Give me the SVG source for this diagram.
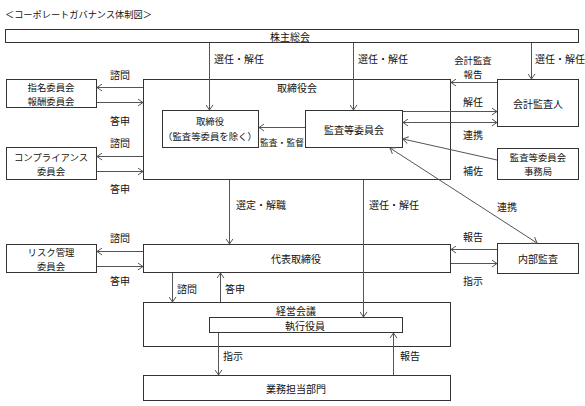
<svg xmlns="http://www.w3.org/2000/svg" width="585" height="406" viewBox="0 0 585 406">
<style>
text{font-family:"Noto Sans CJK JP","Noto Sans CJK SC",sans-serif;font-size:10px;fill:#111;dominant-baseline:central}
.c{text-anchor:middle}
.s{font-size:9.4px}
.box{fill:#fff;stroke:#333;stroke-width:1}
.ln{fill:none;stroke:#555;stroke-width:1}
.a{marker-end:url(#ah)}
.b{marker-start:url(#ah);marker-end:url(#ah)}
</style>
<defs>
<marker id="ah" viewBox="0 0 6 8" refX="5.6" refY="4" markerWidth="6" markerHeight="8" markerUnits="userSpaceOnUse" orient="auto-start-reverse">
<path d="M0.5,0.5 L5.6,4 L0.5,7.5" fill="none" stroke="#555" stroke-width="1"/>
</marker>
</defs>
<rect width="585" height="406" fill="#fff"/>
<text x="5" y="14" style="font-size:9.2px">＜コーポレートガバナンス体制図＞</text>

<g id="kabunushi"><rect class="box" x="5.5" y="29.5" width="573" height="13"/><text class="c" x="290" y="36">株主総会</text></g>
<g id="torishimariyakukai"><rect class="box" x="143.5" y="79.5" width="307" height="100"/><text class="c" x="297" y="87">取締役会</text></g>
<g id="torishimariyaku"><rect class="box" x="162.5" y="110.5" width="96" height="37"/><text class="c s" x="210" y="121">取締役</text><text class="c s" x="210" y="136">（監査等委員を除く）</text></g>
<g id="kansa"><rect class="box" x="305.5" y="110.5" width="97" height="37"/><text class="c" x="354" y="129">監査等委員会</text></g>
<g id="kaikei"><rect class="box" x="497.5" y="79.5" width="81" height="47"/><text class="c" x="538" y="103">会計監査人</text></g>
<g id="jimukyoku"><rect class="box" x="497.5" y="148.5" width="81" height="31"/><text class="c s" x="538" y="157">監査等委員会</text><text class="c s" x="538" y="171">事務局</text></g>
<g id="shimei"><rect class="box" x="6.5" y="79.5" width="90" height="28"/><text class="c s" x="51" y="86.5">指名委員会</text><text class="c s" x="51" y="100.5">報酬委員会</text></g>
<g id="compliance"><rect class="box" x="6.5" y="147.5" width="90" height="32"/><text class="c s" x="51" y="156.5">コンプライアンス</text><text class="c s" x="51" y="170.5">委員会</text></g>
<g id="risk"><rect class="box" x="6.5" y="244.5" width="90" height="28"/><text class="c s" x="51" y="251.5">リスク管理</text><text class="c s" x="51" y="265.5">委員会</text></g>
<g id="daihyo"><rect class="box" x="143.5" y="244.5" width="307" height="28"/><text class="c" x="296" y="258">代表取締役</text></g>
<g id="naibu"><rect class="box" x="497.5" y="243.5" width="81" height="30"/><text class="c" x="538" y="258">内部監査</text></g>
<g id="keiei"><rect class="box" x="143.5" y="302.5" width="307" height="44"/><text class="c" x="296" y="310">経営会議</text></g>
<g id="shikko"><rect class="box" x="209.5" y="317.5" width="193" height="15"/><text class="c" x="305" y="325">執行役員</text></g>
<g id="gyomu"><rect class="box" x="143.5" y="375.5" width="307" height="25"/><text class="c" x="296" y="388">業務担当部門</text></g>

<g id="connectors">
<path class="ln a" d="M209.5,43 V110"/>
<path class="ln a" d="M353.5,43 V110"/>
<path class="ln a" d="M531.5,43 V79"/>
<path class="ln a" d="M497,82.5 H451"/>
<path class="ln a" d="M403,111.5 H497"/>
<path class="ln b" d="M403,122.5 H497"/>
<path class="ln a" d="M497,160 L403,139"/>
<path class="ln b" d="M390,148 L537,243"/>
<path class="ln a" d="M305,127.5 H259"/>
<path class="ln a" d="M143,87.5 H97"/>
<path class="ln a" d="M97,102.5 H143"/>
<path class="ln a" d="M143,156.5 H97"/>
<path class="ln a" d="M97,171.5 H143"/>
<path class="ln a" d="M229.5,180 V244"/>
<path class="ln a" d="M363.5,180 V317"/>
<path class="ln a" d="M143,251.5 H97"/>
<path class="ln a" d="M97,266.5 H143"/>
<path class="ln a" d="M497,249.5 H451"/>
<path class="ln a" d="M451,263.5 H497"/>
<path class="ln a" d="M172.5,273 V302"/>
<path class="ln a" d="M220.5,302 V273"/>
<path class="ln a" d="M218.5,333 V375"/>
<path class="ln a" d="M393.5,375 V333"/>
</g>

<g id="labels">
<text x="214" y="58">選任・解任</text>
<text x="358" y="58">選任・解任</text>
<text x="535" y="58">選任・解任</text>
<text class="c s" x="473" y="60">会計監査</text>
<text class="c s" x="473" y="74">報告</text>
<text class="c" x="473" y="101">解任</text>
<text class="c" x="473" y="134">連携</text>
<text class="c" x="473" y="170">補佐</text>
<text class="c" x="282" y="142" style="font-size:8.8px">監査・監督</text>
<text class="c" x="120" y="74">諮問</text>
<text class="c" x="120" y="120">答申</text>
<text class="c" x="120" y="142">諮問</text>
<text class="c" x="120" y="188">答申</text>
<text x="236" y="204">選定・解職</text>
<text x="369" y="204">選任・解任</text>
<text class="c" x="507" y="206">連携</text>
<text class="c" x="120" y="237">諮問</text>
<text class="c" x="120" y="280">答申</text>
<text class="c" x="473" y="236">報告</text>
<text class="c" x="473" y="280">指示</text>
<text x="177" y="288">諮問</text>
<text x="225" y="288">答申</text>
<text x="223" y="355">指示</text>
<text x="400" y="355">報告</text>
</g>
</svg>
